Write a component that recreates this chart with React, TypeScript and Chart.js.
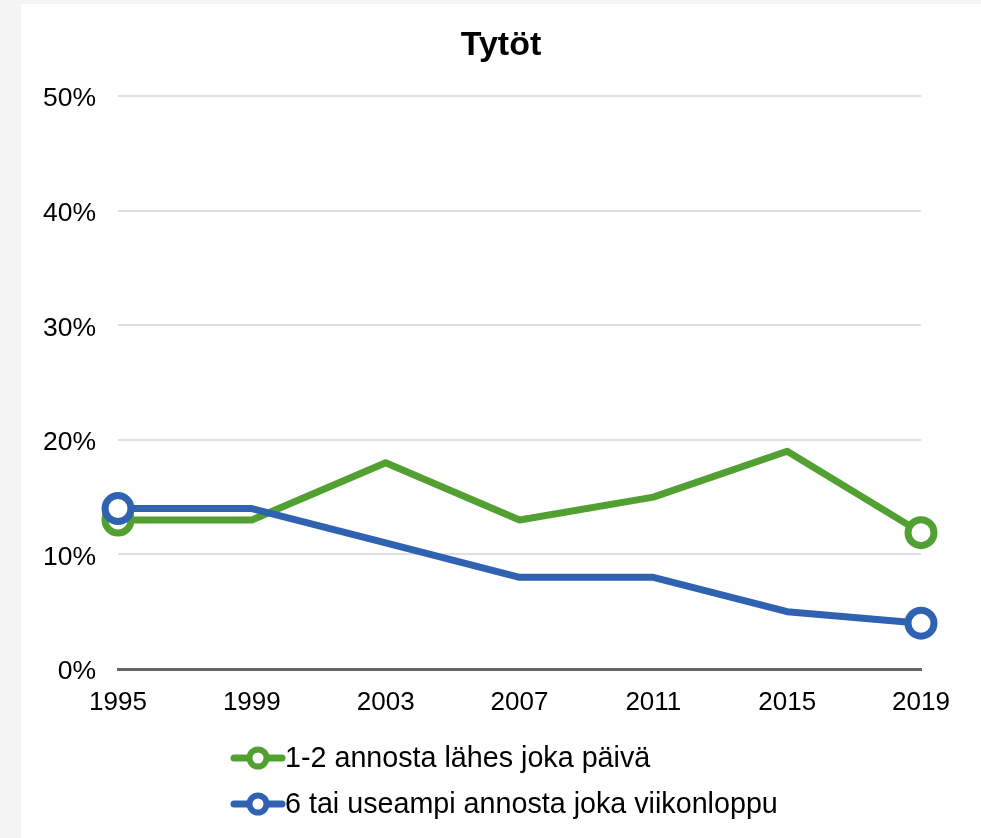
import React, { useEffect, useRef } from "react";
import { Chart, registerables } from "chart.js";

Chart.register(...registerables);

const categories = ["1995", "1999", "2003", "2007", "2011", "2015", "2019"];
const dailySeries = [13, 13, 18, 13, 15, 19, 11.9];
const weekendSeries = [14, 14, 11, 8, 8, 5, 4];
const seriesLabels = ["1-2 annosta lähes joka päivä", "6 tai useampi annosta joka viikonloppu"];
const yTicks = [0, 10, 20, 30, 40, 50];
const title = "Tytöt";

const GREEN = "#52a032";
const BLUE = "#2f62b0";
const FONT = "'Liberation Sans', Arial, sans-serif";

const endPoints = (n: number, r: number) => Array.from({ length: n }, (_, i) => (i === 0 || i === n - 1 ? r : 0));

const legendPlugin = {
  id: "customLegend",
  afterDraw(chart: any) {
    const ctx = chart.ctx as CanvasRenderingContext2D;
    const x0 = 213;
    const x1 = 261;
    const cx = 237;
    const tx = 264;
    const ys = [754, 800];
    ctx.save();
    chart.data.datasets.forEach((ds: any, i: number) => {
      const y = ys[i];
      ctx.strokeStyle = ds.borderColor;
      ctx.lineWidth = 7;
      ctx.lineCap = "round";
      ctx.beginPath();
      ctx.moveTo(x0, y);
      ctx.lineTo(x1, y);
      ctx.stroke();
      ctx.beginPath();
      ctx.arc(cx, y, 8.5, 0, Math.PI * 2);
      ctx.fillStyle = "#fff";
      ctx.fill();
      ctx.lineWidth = 6;
      ctx.stroke();
      ctx.fillStyle = "#000";
      ctx.font = `28.7px ${FONT}`;
      ctx.textBaseline = "middle";
      ctx.textAlign = "left";
      ctx.fillText(ds.label, tx, y + 1);
    });
    ctx.restore();
  },
};

export default function App() {
  const ref = useRef<HTMLCanvasElement | null>(null);

  useEffect(() => {
    if (!ref.current) return;
    const n = categories.length;
    const chart = new Chart(ref.current, {
      type: "line",
      data: {
        labels: categories,
        datasets: [
          {
            label: seriesLabels[0],
            data: dailySeries,
            borderColor: GREEN,
            backgroundColor: "#fff",
            borderWidth: 7,
            pointRadius: endPoints(n, 13),
            pointHoverRadius: endPoints(n, 13),
            pointBorderWidth: 7,
            pointBackgroundColor: "#fff",
            pointBorderColor: GREEN,
            tension: 0,
            borderJoinStyle: "round",
            borderCapStyle: "round",
            order: 1,
          },
          {
            label: seriesLabels[1],
            data: weekendSeries,
            borderColor: BLUE,
            backgroundColor: "#fff",
            borderWidth: 7,
            pointRadius: endPoints(n, 13),
            pointHoverRadius: endPoints(n, 13),
            pointBorderWidth: 7,
            pointBackgroundColor: "#fff",
            pointBorderColor: BLUE,
            tension: 0,
            borderJoinStyle: "round",
            borderCapStyle: "round",
            order: 0,
          },
        ],
      },
      options: {
        animation: false,
        responsive: false,
        layout: { padding: { left: 0, right: 0, top: 0, bottom: 0 } },
        plugins: {
          legend: { display: false },
          tooltip: { enabled: false },
          title: {
            display: true,
            text: title,
            color: "#000",
            font: { family: FONT, size: 34, weight: "bold", lineHeight: 1.2 },
            padding: { top: 21, bottom: 30.2 },
          },
        },
        scales: {
          x: {
            offset: false,
            grid: { display: false, drawTicks: false },
            border: { display: true, color: "#666666", width: 3 },
            ticks: {
              color: "#000",
              font: { family: FONT, size: 26 },
              padding: 18,
              maxRotation: 0,
              autoSkip: false,
            },
            afterFit(scale: any) {
              scale.height = 169;
              scale.paddingRight = 60;
            },
          },
          y: {
            min: 0,
            max: 50,
            afterBuildTicks(scale: any) {
              scale.ticks = yTicks.map((v) => ({ value: v }));
            },
            grid: { color: "#dcdfe3", lineWidth: 2, drawTicks: false },
            border: { display: false },
            ticks: {
              color: "#000",
              font: { family: FONT, size: 26.5 },
              padding: 22,
              labelOffset: 3,
              callback: (v: any) => `${v}%`,
            },
            afterFit(scale: any) {
              scale.width = 97;
            },
          },
        },
      },
      plugins: [legendPlugin],
    } as any);
    return () => chart.destroy();
  }, []);

  return (
    <div style={{ position: "fixed", left: 0, top: 0, width: 981, height: 838, background: "#f4f4f4" }}>
      <div style={{ position: "absolute", left: 21, top: 4, width: 960, height: 834, background: "#fff" }}>
        <canvas ref={ref} width={960} height={834} style={{ display: "block" }} />
      </div>
    </div>
  );
}
